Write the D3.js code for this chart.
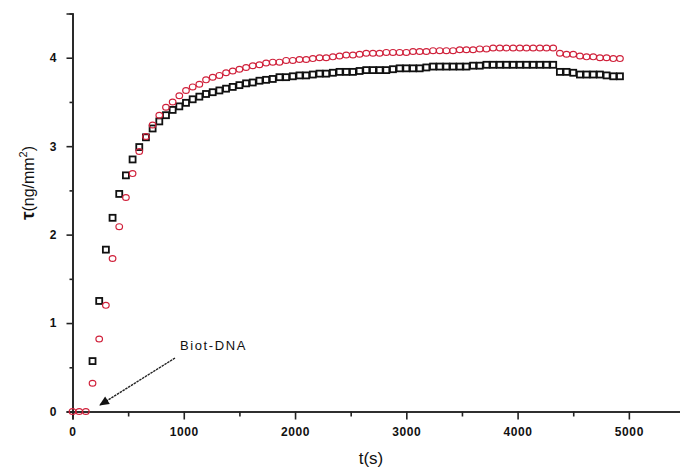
<!DOCTYPE html>
<html>
<head>
<meta charset="utf-8">
<script src="https://cdn.jsdelivr.net/npm/d3@7"></script>
<style>
  body { margin: 0; background: #ffffff; }
  text { font-family: "Liberation Sans", Arial, sans-serif; }
</style>
</head>
<body>
<div id="viz-container"></div>
<script>
let w = 680;
let h = 468;

// sample times (s)
const times = [0, 60, 120, 180, 240, 300, 360, 420, 480, 540, 600, 660, 720, 780, 840, 900, 960,
  1020, 1080, 1140, 1200, 1260, 1320, 1380, 1440, 1500, 1560, 1620, 1680, 1740, 1800, 1860, 1920, 1980,
  2040, 2100, 2160, 2220, 2280, 2340, 2400, 2460, 2520, 2580, 2640, 2700, 2760, 2820, 2880, 2940, 3000,
  3060, 3120, 3180, 3240, 3300, 3360, 3420, 3480, 3540, 3600, 3660, 3720, 3780, 3840, 3900, 3960,
  4020, 4080, 4140, 4200, 4260, 4320, 4380, 4440, 4500, 4560, 4620, 4680, 4740, 4800, 4860, 4920];

// black squares (no visible points before 180 s)
const blackVals = [null, null, null, 0.57, 1.25, 1.83, 2.19, 2.46, 2.67, 2.85, 2.99, 3.10, 3.20, 3.28, 3.35, 3.41, 3.45,
  3.49, 3.53, 3.56, 3.59, 3.61, 3.63, 3.65, 3.67, 3.69, 3.71, 3.72, 3.74, 3.75, 3.76, 3.78, 3.78, 3.79,
  3.80, 3.80, 3.81, 3.82, 3.82, 3.83, 3.84, 3.84, 3.84, 3.85, 3.86, 3.86, 3.86, 3.86, 3.87, 3.88, 3.88,
  3.88, 3.88, 3.89, 3.90, 3.90, 3.90, 3.90, 3.90, 3.90, 3.91, 3.91, 3.92, 3.92, 3.92, 3.92, 3.92,
  3.92, 3.92, 3.92, 3.92, 3.92, 3.92, 3.84, 3.84, 3.83, 3.81, 3.81, 3.81, 3.81, 3.80, 3.79, 3.79];

// red circles
const redVals = [0, 0, 0, 0.32, 0.82, 1.20, 1.73, 2.09, 2.42, 2.69, 2.94, 3.11, 3.24, 3.35, 3.44, 3.50, 3.57,
  3.63, 3.67, 3.70, 3.75, 3.78, 3.80, 3.83, 3.85, 3.87, 3.89, 3.91, 3.92, 3.94, 3.95, 3.95, 3.97, 3.97,
  3.98, 3.98, 3.99, 4.00, 4.00, 4.01, 4.02, 4.03, 4.03, 4.04, 4.05, 4.05, 4.05, 4.06, 4.06, 4.06, 4.06,
  4.07, 4.07, 4.07, 4.08, 4.08, 4.08, 4.08, 4.09, 4.09, 4.09, 4.10, 4.10, 4.11, 4.11, 4.11, 4.11,
  4.11, 4.11, 4.11, 4.11, 4.11, 4.11, 4.05, 4.04, 4.04, 4.02, 4.01, 4.01, 4.00, 4.00, 3.99, 3.99];

const xMajor = [0, 1000, 2000, 3000, 4000, 5000];
const xMinor = [500, 1500, 2500, 3500, 4500, 5500];
const yMajor = [0, 1, 2, 3, 4];
const yMinor = [0.5, 1.5, 2.5, 3.5];

let viz = d3.select("#viz-container")
  .append("svg")
  .attr("width", w)
  .attr("height", h)
  .style("background-color", "#ffffff");

let x = d3.scaleLinear().domain([0, 5500]).range([72.5, 684.5]);
let y = d3.scaleLinear().domain([0, 4.5]).range([411.5, 13.5]);

// x axis
let xAxis = viz.append("g").attr("transform", `translate(0,${y(0)})`);
xAxis.call(d3.axisBottom(x).tickValues(xMinor).tickSize(5).tickFormat(""));
xAxis.call(g => g.append("g").call(d3.axisBottom(x).tickValues(xMajor).tickSize(8).tickPadding(8).tickFormat(d3.format("d"))));
xAxis.selectAll(".domain").attr("stroke", "#222").attr("stroke-width", 1.6);
xAxis.selectAll(".tick line").attr("stroke", "#222").attr("stroke-width", 1.6);
xAxis.selectAll(".tick text")
  .attr("font-size", 12).attr("font-weight", "bold").attr("fill", "#111")
  .attr("font-family", "'Liberation Sans', Arial, sans-serif")
  .attr("letter-spacing", 0.6);

// y axis
let yAxis = viz.append("g").attr("transform", `translate(${x(0)},0)`);
yAxis.call(d3.axisLeft(y).tickValues(yMinor).tickSize(3).tickFormat(""));
yAxis.call(g => g.append("g").call(d3.axisLeft(y).tickValues(yMajor).tickSize(6).tickPadding(10).tickFormat(d3.format("d"))));
yAxis.selectAll(".domain").attr("stroke", "#222").attr("stroke-width", 1.6);
yAxis.selectAll(".tick line").attr("stroke", "#222").attr("stroke-width", 1.6);
yAxis.selectAll(".tick text")
  .attr("font-size", 12).attr("font-weight", "bold").attr("fill", "#111")
  .attr("font-family", "'Liberation Sans', Arial, sans-serif");

// axis titles
viz.append("text")
  .attr("x", 371).attr("y", 464)
  .attr("text-anchor", "middle")
  .attr("font-size", 17)
  .attr("fill", "#111")
  .text("t(s)");

let yt = viz.append("text")
  .attr("transform", "translate(34,183) rotate(-90)")
  .attr("text-anchor", "middle")
  .attr("font-size", 16)
  .attr("fill", "#111");
yt.append("tspan").attr("font-weight", "bold").attr("font-size", 19).text("τ");
yt.append("tspan").text("(ng/mm");
yt.append("tspan").attr("font-size", 11).attr("dy", -7).text("2");
yt.append("tspan").attr("dy", 7).text(")");

// data
let redData = times.map((t, i) => ({ t: t, v: redVals[i] })).filter(d => d.v !== null);
let blackData = times.map((t, i) => ({ t: t, v: blackVals[i] })).filter(d => d.v !== null);

viz.selectAll(".sq").data(blackData).enter().append("rect")
  .attr("class", "sq")
  .attr("x", d => x(d.t) - 3)
  .attr("y", d => y(d.v) - 3)
  .attr("width", 6)
  .attr("height", 6)
  .attr("fill", "none")
  .attr("stroke", "#111")
  .attr("stroke-width", 1.8);

viz.selectAll(".pt").data(redData).enter().append("ellipse")
  .attr("class", "pt")
  .attr("cx", d => x(d.t))
  .attr("cy", d => y(d.v))
  .attr("rx", 3.3)
  .attr("ry", 2.9)
  .attr("fill", "none")
  .attr("stroke", "#d0203a")
  .attr("stroke-width", 1.2);

// annotation
viz.append("defs").append("marker")
  .attr("id", "head")
  .attr("viewBox", "0 0 10 10")
  .attr("refX", 9).attr("refY", 5)
  .attr("markerWidth", 8).attr("markerHeight", 7)
  .attr("orient", "auto")
  .append("path").attr("d", "M0,0.5 L10,5 L0,9.5 Z").attr("fill", "#111");

viz.append("line")
  .attr("x1", 175).attr("y1", 358)
  .attr("x2", 100).attr("y2", 405)
  .attr("stroke", "#222").attr("stroke-width", 1.4)
  .attr("stroke-dasharray", "2.5,0.8")
  .attr("marker-end", "url(#head)");

viz.append("text")
  .attr("x", 180).attr("y", 350)
  .attr("font-size", 13)
  .attr("letter-spacing", 1.6)
  .attr("fill", "#111")
  .text("Biot-DNA");
</script>
</body>
</html>
